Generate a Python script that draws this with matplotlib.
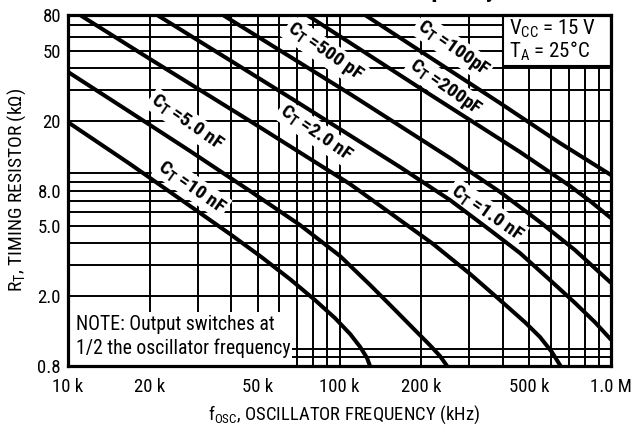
import os
import matplotlib
matplotlib.use('Agg')
import matplotlib.pyplot as plt
import matplotlib.font_manager as fm
from matplotlib.patches import Rectangle

# ---- pick a condensed sans font if one is installed ----
COND = ('condensed', 'semi-condensed', 'extra-condensed', 'ultra-condensed')
entries = fm.fontManager.ttflist
pref = ['Liberation Sans Narrow', 'Roboto Condensed', 'Open Sans Condensed', 'Noto Sans',
        'Roboto', 'Open Sans', 'DejaVu Sans', 'Lato', 'Inter']
FONT, STRETCH, NARROW = 'Liberation Sans', 'normal', False
found = False
for name in pref:
    for e in entries:
        base = os.path.basename(e.fname)
        is_cond = (e.stretch in COND or 'Narrow' in e.name or 'Condensed' in e.name
                   or 'Narrow' in base or 'ondensed' in base)
        if e.name == name and is_cond and 'Extra' not in base and 'Semi' not in base:
            FONT, STRETCH, NARROW = e.name, e.stretch, True
            found = True
            break
    if found:
        break
S = 1.0 if NARROW else 0.86

plt.rcParams['font.family'] = [FONT, 'DejaVu Sans']
plt.rcParams['font.stretch'] = STRETCH
plt.rcParams['mathtext.default'] = 'regular'

# ---- data: oscillator frequency (kHz) vs timing resistor (kOhm) ----
f_10nF = [10, 16.92, 28.14, 39.51, 50.95, 65.73, 81.23, 96.25, 109.3, 119.0, 126.3, 129.5]
r_10nF = [19.6, 11.33, 6.53, 4.52, 3.39, 2.50, 1.90, 1.50, 1.22, 1.03, 0.889, 0.8]

f_5nF = [10, 16.92, 28.14, 46.82, 71.5, 100.4, 129.5, 160.1, 189.7, 215.4, 234.5, 249]
r_5nF = [37.9, 22.4, 13.43, 7.95, 5.09, 3.39, 2.32, 1.67, 1.28, 1.05, 0.912, 0.8]

f_2nF = [11.07, 20.05, 46.82, 109.3, 167.0, 221, 302.4, 390, 482.3, 547.6, 606, 652]
r_2nF = [80, 44.9, 19.9, 8.71, 5.43, 3.97, 2.68, 1.90, 1.42, 1.17, 0.96, 0.8]

f_1nF = [21.3, 68.0, 167, 255.3, 358.4, 462.2, 596.1, 737, 873, 1000]
r_1nF = [80, 26.2, 10.89, 7.06, 4.76, 3.52, 2.47, 1.83, 1.42, 1.13]

f_500pF = [37.2, 109.3, 255.3, 390, 547.6, 737, 1000]
r_500pF = [80, 28.4, 12.25, 7.85, 5.29, 3.66, 2.38]

f_200pF = [75.9, 203, 462.2, 706.3, 837, 1000]
r_200pF = [80, 29.9, 13.26, 8.49, 6.97, 5.57]

f_100pF = [124.2, 390, 649, 1000]
r_100pF = [80, 25.2, 14.9, 9.8]

curve_f = [f_10nF, f_5nF, f_2nF, f_1nF, f_500pF, f_200pF, f_100pF]
curve_r = [r_10nF, r_5nF, r_2nF, r_1nF, r_500pF, r_200pF, r_100pF]

label_texts = ['C$_T$ =10 nF', 'C$_T$ =5.0 nF', 'C$_T$ =2.0 nF', 'C$_T$ =1.0 nF',
               'C$_T$ =500 pF', 'C$_T$ =200pF', 'C$_T$ =100pF']
label_f = [28.6, 27.4, 81.9, 349, 88.4, 244.7, 261.8]
label_r = [8.38, 19.6, 17.0, 6.0, 49.2, 31.1, 51.9]

x_ticks = [10, 20, 50, 100, 200, 500, 1000]
x_ticklabels = ['10 k', '20 k', '50 k', '100 k', '200 k', '500 k', '1.0 M']
y_ticks = [0.8, 2, 5, 8, 20, 50, 80]
y_ticklabels = ['0.8', '2.0', '5.0', '8.0', '20', '50', '80']
x_grid = [20, 30, 40, 50, 60, 70, 80, 90, 100, 200, 300, 400, 500, 600, 700, 800, 900]
y_grid = [0.9, 1, 2, 3, 4, 5, 6, 7, 8, 9, 10, 20, 30, 40, 50, 60, 70]

# ---- figure ----
fig = plt.figure(figsize=(6.32, 4.30), dpi=100)
W, H = 632, 430
L, R_, T, B = 68, 611, 15, 366
ax = fig.add_axes([L / W, 1 - B / H, (R_ - L) / W, (B - T) / H])
ax.set_xscale('log')
ax.set_yscale('log')
ax.set_xlim(10, 1000)
ax.set_ylim(0.8, 80)

ax.set_xticks(x_ticks)
ax.set_xticklabels(x_ticklabels)
ax.set_yticks(y_ticks)
ax.set_yticklabels(y_ticklabels)
ax.set_xticks(x_grid, minor=True)
ax.set_yticks(y_grid, minor=True)
ax.xaxis.set_minor_formatter(plt.NullFormatter())
ax.yaxis.set_minor_formatter(plt.NullFormatter())
ax.tick_params(which='both', length=0)
ax.tick_params(axis='x', pad=9, labelsize=13.5 * S)
ax.tick_params(axis='y', pad=5, labelsize=13.5 * S)
ax.grid(True, which='both', color='black', linewidth=1.4, zorder=0.5)
ax.set_axisbelow(True)
for sp in ax.spines.values():
    sp.set_linewidth(2.3)
    sp.set_zorder(6)

for fx, ry in zip(curve_f, curve_r):
    ax.plot(fx, ry, color='black', linewidth=2.9, solid_capstyle='butt',
            solid_joinstyle='round', zorder=3)

for txt, fx, ry in zip(label_texts, label_f, label_r):
    ax.text(fx, ry, txt, rotation=-35, rotation_mode='anchor', ha='center', va='center',
            fontsize=14 * S, fontweight='bold', zorder=2,
            bbox=dict(facecolor='white', edgecolor='none', pad=1.5))

# conditions box
ax.add_patch(Rectangle(((503 - L) / (R_ - L), (B - 66) / (B - T)),
                       (R_ - 503) / (R_ - L), (66 - T) / (B - T),
                       transform=ax.transAxes, facecolor='white', edgecolor='black',
                       linewidth=1.5, zorder=4, clip_on=False))
ax.text((509 - L) / (R_ - L), (B - 29) / (B - T), 'V$_{CC}$ = 15 V', transform=ax.transAxes,
        ha='left', va='center', fontsize=15 * S, zorder=5)
ax.text((509 - L) / (R_ - L), (B - 51) / (B - T), 'T$_A$ = 25°C', transform=ax.transAxes,
        ha='left', va='center', fontsize=15 * S, zorder=5)

# note
ax.add_patch(Rectangle((0, 0), (292 - L) / (R_ - L), (B - 312) / (B - T),
                       transform=ax.transAxes, facecolor='white', edgecolor='none', zorder=1.5))
ax.text((76 - L) / (R_ - L), (B - 325) / (B - T), 'NOTE: Output switches at',
        transform=ax.transAxes, ha='left', va='center', fontsize=14.2 * S, zorder=5)
ax.text((76 - L) / (R_ - L), (B - 348) / (B - T), '1/2 the oscillator frequency',
        transform=ax.transAxes, ha='left', va='center', fontsize=14.2 * S, zorder=5)

# axis labels
fig.text(17 / W, 1 - 190 / H, 'R$_T$, TIMING RESISTOR (k\u03a9)', rotation=90,
         ha='center', va='center', fontsize=14 * S)
fig.text(344 / W, 1 - 415 / H, 'f$_{OSC}$, OSCILLATOR FREQUENCY (kHz)',
         ha='center', va='center', fontsize=13.4 * S)

# title, cut off by the top edge as in the reference (only descenders show)
fig.text(497 / W, 1.0 + 3.5 / H, 'Oscillator Frequency', ha='right', va='baseline',
         fontsize=18, fontweight='bold')

fig.savefig('out.png', dpi=100)
